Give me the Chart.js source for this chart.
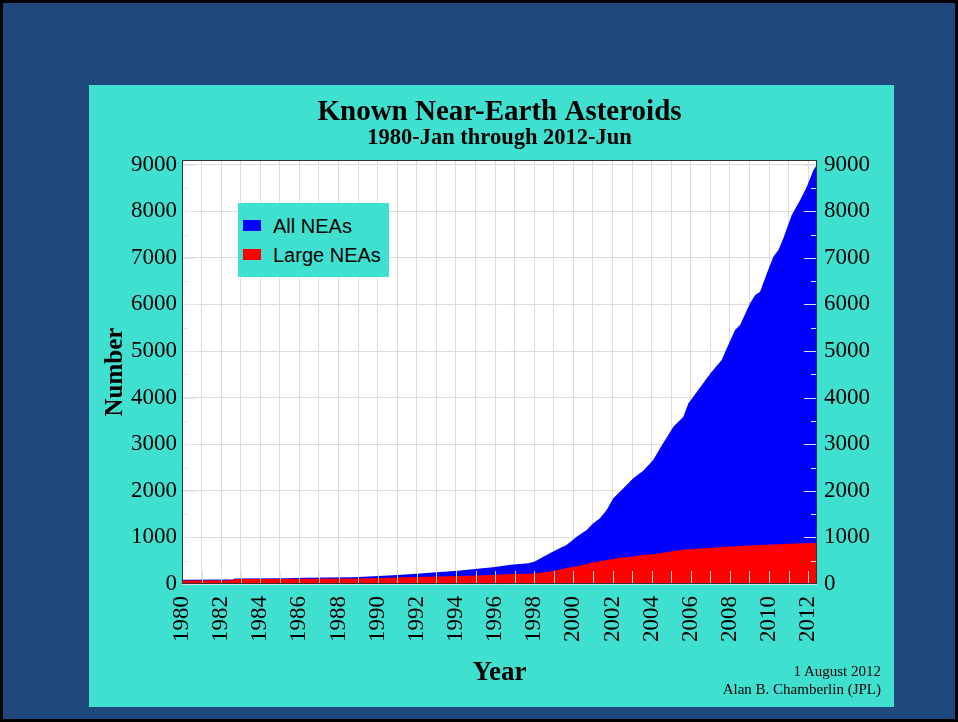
<!DOCTYPE html>
<html lang="en">
<head>
    <meta charset="UTF-8">
    <title>Known Near-Earth Asteroids</title>
    <script src="https://cdn.jsdelivr.net/npm/chart.js"></script>
    <style>
        body { margin: 0; width: 958px; height: 722px; background: #000; position: relative; overflow: hidden; }
        #frame { position: absolute; left: 3px; top: 3px; width: 952px; height: 716px; background: #1f497d; }
        #panel { position: absolute; left: 89px; top: 85px; width: 805px; height: 622px; background: #40e0d0; }
        #panel canvas { position: absolute; left: 0; top: 0; }
        #legend { position: absolute; left: 149px; top: 118px; width: 151px; height: 74px; background: #40e0d0;
                  font-family: "Liberation Sans", Arial, sans-serif; font-size: 20px; color: #000; }
        .item { position: absolute; left: 5px; height: 24px; line-height: 24px; }
        .item span { display: inline-block; width: 18px; height: 11px; margin-right: 12px; vertical-align: middle; position: relative; top: -2px; }
        #credit { position: absolute; right: 13px; top: 577px; text-align: right; font-family: "Liberation Serif", serif; font-size: 15px; line-height: 18px; color: #000; }
    </style>
</head>
<body>
<div id="frame"></div>
<div id="panel">
    <canvas id="nea" width="805" height="622"></canvas>
    <div id="legend">
        <div class="item" style="top: 11px;"><span style="background:#0000ff"></span>All NEAs</div>
        <div class="item" style="top: 40px;"><span style="background:#ff0000"></span>Large NEAs</div>
    </div>
    <div id="credit">1 August 2012<br>Alan B. Chamberlin (JPL)</div>
</div>
<script>
    // values (cumulative counts)
    const years = [1980.0, 1982.6, 1982.7, 1985.3, 1986.3, 1988.7, 1989.8, 1991.0, 1992.0, 1993.0,
        1994.1, 1995.1, 1996.0, 1996.8, 1997.7, 1998.0, 1998.8, 1999.3, 1999.65, 2000.17,
        2000.68, 2001.02, 2001.36, 2001.7, 2002.04, 2002.38, 2003.06, 2003.57, 2004.08, 2004.43,
        2005.11, 2005.62, 2005.88, 2006.13, 2006.82, 2007.07, 2007.58, 2007.84, 2008.26, 2008.52,
        2009.03, 2009.29, 2009.54, 2009.89, 2010.22, 2010.48, 2010.73, 2010.91, 2011.16, 2011.59,
        2011.93, 2012.27, 2012.45];
    const allNeas = [90, 95, 120, 125, 135, 145, 165, 195, 222, 250,
        286, 329, 365, 415, 443, 479, 658, 766, 837, 1015,
        1159, 1302, 1409, 1588, 1839, 1981, 2268, 2432, 2661, 2912,
        3376, 3590, 3878, 4019, 4414, 4556, 4807, 5058, 5451, 5558,
        6024, 6202, 6273, 6667, 7024, 7167, 7418, 7632, 7918, 8240,
        8526, 8884, 9000];
    const largeNeas = [75, 80, 105, 108, 112, 120, 125, 138, 150, 160,
        172, 182, 200, 212, 220, 225, 270, 310, 345, 380,
        430, 465, 490, 515, 535, 565, 590, 630, 640, 660,
        710, 735, 745, 752, 772, 780, 792, 800, 810, 815,
        825, 830, 835, 842, 848, 852, 858, 862, 866, 872,
        876, 882, 885];
    // one grid line per year, a label every second year
    const gridYears = [1980, 1981, 1982, 1983, 1984, 1985, 1986, 1987, 1988, 1989, 1990,
        1991, 1992, 1993, 1994, 1995, 1996, 1997, 1998, 1999, 2000, 2001,
        2002, 2003, 2004, 2005, 2006, 2007, 2008, 2009, 2010, 2011, 2012];
    const yearLabels = [1980, 1982, 1984, 1986, 1988, 1990, 1992, 1994, 1996, 1998,
        2000, 2002, 2004, 2006, 2008, 2010, 2012];
    const countTicks = [0, 1000, 2000, 3000, 4000, 5000, 6000, 7000, 8000, 9000];

    const serif = "'Liberation Serif', 'Times New Roman', serif";

    // white plot background, inner tick marks and frame
    const plotDecor = {
        id: 'plotDecor',
        beforeDraw(chart) {
            const { ctx, chartArea: a } = chart;
            ctx.save();
            ctx.fillStyle = '#ffffff';
            ctx.fillRect(a.left, a.top, a.width, a.height);
            ctx.restore();
        },
        afterDatasetsDraw(chart) {
            const { ctx, chartArea: a, scales } = chart;
            ctx.save();
            ctx.strokeStyle = 'rgba(232,232,232,0.95)';
            ctx.lineWidth = 1;
            ctx.beginPath();
            gridYears.slice(1).forEach(yr => {
                const px = Math.round(scales.x.getPixelForValue(yr)) + 0.5;
                ctx.moveTo(px, a.bottom);
                ctx.lineTo(px, a.bottom - 13);
            });
            for (let v = 500; v <= 9000; v += 500) {
                const py = Math.round(scales.y.getPixelForValue(v)) + 0.5;
                const len = v % 1000 === 0 ? 13 : 6;
                ctx.moveTo(a.right, py);
                ctx.lineTo(a.right - len, py);
                ctx.moveTo(a.left, py);
                ctx.lineTo(a.left + len, py);
            }
            ctx.stroke();
            ctx.strokeStyle = '#333333';
            ctx.strokeRect(a.left + 0.5, a.top + 0.5, a.width - 1, a.height - 1);
            ctx.restore();
        }
    };

    const points = vals => years.map((yr, i) => ({ x: yr, y: vals[i] }));
    const setCountTicks = s => { s.ticks = countTicks.map(v => ({ value: v })); };

    window.onload = function () {
        Chart.defaults.font.family = serif;
        Chart.defaults.color = '#000';
        new Chart(document.getElementById('nea').getContext('2d'), {
            type: 'line',
            data: {
                datasets: [{
                    label: 'All NEAs',
                    data: points(allNeas),
                    borderWidth: 0,
                    borderColor: '#0000ff',
                    backgroundColor: '#0000ff',
                    fill: 'origin',
                    pointRadius: 0,
                    order: 2
                }, {
                    label: 'Large NEAs',
                    data: points(largeNeas),
                    borderWidth: 0,
                    borderColor: '#ff0000',
                    backgroundColor: '#ff0000',
                    fill: 'origin',
                    pointRadius: 0,
                    order: 1
                }]
            },
            options: {
                responsive: false,
                animation: false,
                layout: { padding: 0 },
                plugins: {
                    legend: { display: false },
                    tooltip: { enabled: false },
                    title: {
                        display: true,
                        fullSize: false,
                        text: 'Known Near-Earth Asteroids',
                        font: { size: 29, weight: 'bold', lineHeight: 1 },
                        padding: { top: 13, bottom: 0 }
                    },
                    subtitle: {
                        display: true,
                        fullSize: false,
                        text: '1980-Jan through 2012-Jun',
                        font: { size: 22.5, weight: 'bold', lineHeight: 1 },
                        color: '#000',
                        padding: { top: 0, bottom: 10.5 }
                    }
                },
                scales: {
                    x: {
                        type: 'linear',
                        min: 1980,
                        max: 2012.45,
                        afterBuildTicks: s => { s.ticks = gridYears.map(v => ({ value: v })); },
                        afterFit: s => { s.height = 123; },
                        ticks: {
                            autoSkip: false,
                            minRotation: 90,
                            maxRotation: 90,
                            padding: 12,
                            font: { size: 23 },
                            callback: v => (yearLabels.includes(v) ? String(v) : '')
                        },
                        grid: { color: '#dcdcdc', drawTicks: false },
                        border: { display: false },
                        title: {
                            display: true,
                            text: 'Year',
                            font: { size: 27, weight: 'bold', lineHeight: 1 },
                            padding: { top: 0, bottom: 20 }
                        }
                    },
                    y: {
                        position: 'left',
                        min: 0,
                        max: 9100,
                        afterBuildTicks: setCountTicks,
                        afterFit: s => { s.width = 93; },
                        ticks: { autoSkip: false, padding: 5, font: { size: 23 }, callback: v => String(v) },
                        grid: { color: '#dcdcdc', drawTicks: false },
                        border: { display: false },
                        title: {
                            display: true,
                            text: 'Number',
                            font: { size: 25, weight: 'bold', lineHeight: 1 },
                            padding: { top: 14, bottom: 0 }
                        }
                    },
                    y2: {
                        position: 'right',
                        min: 0,
                        max: 9100,
                        afterBuildTicks: setCountTicks,
                        afterFit: s => { s.width = 77; },
                        ticks: { autoSkip: false, padding: 7, font: { size: 23 }, callback: v => String(v) },
                        grid: { drawOnChartArea: false, drawTicks: false },
                        border: { display: false }
                    }
                }
            },
            plugins: [plotDecor]
        });
    };
</script>
</body>
</html>
